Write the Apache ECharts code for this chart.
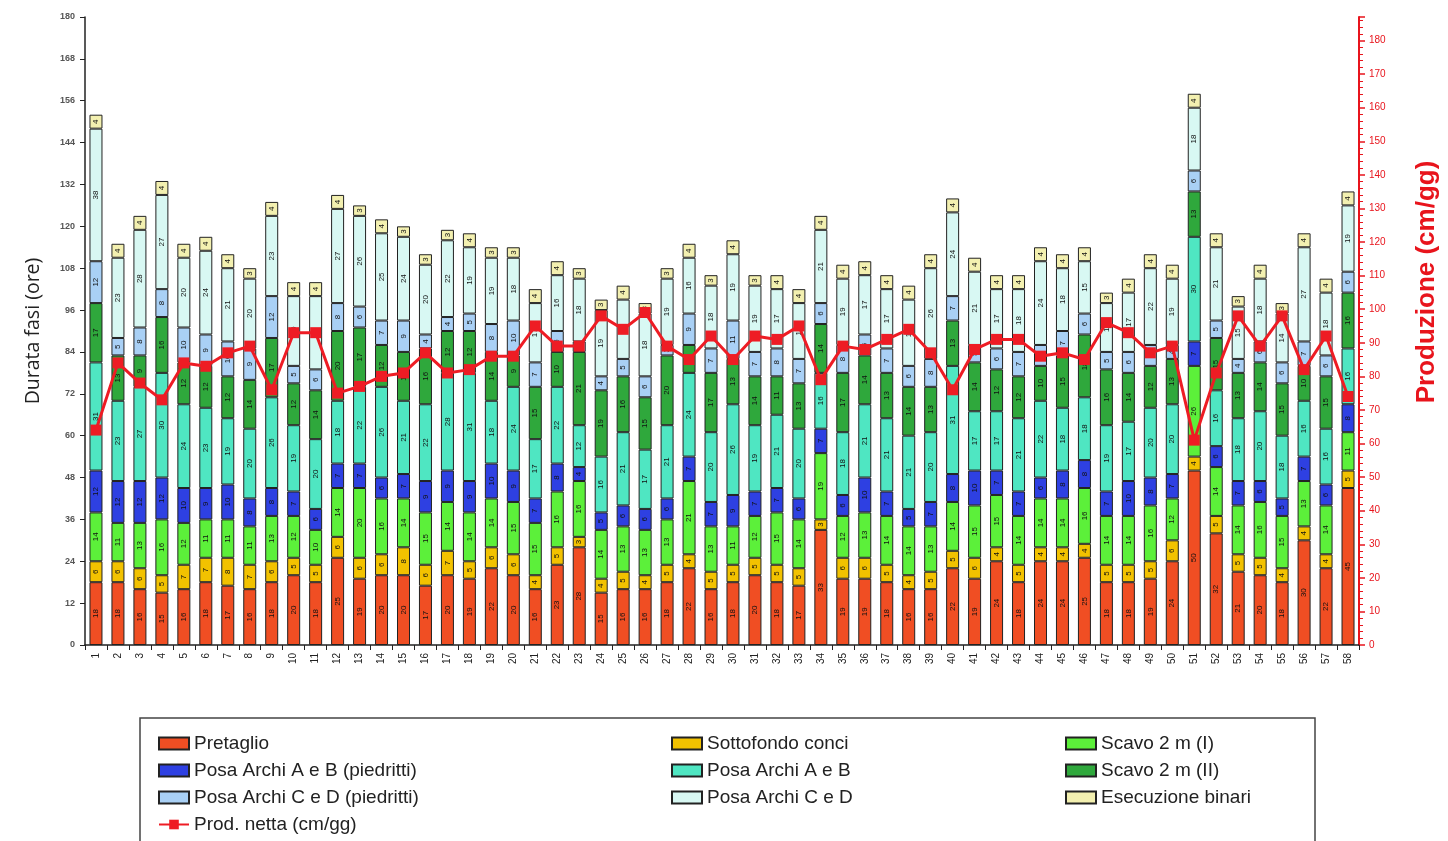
<!DOCTYPE html>
<html>
<head>
<meta charset="utf-8">
<script src="https://cdn.jsdelivr.net/npm/echarts@6/dist/echarts.min.js"></script>
<style>
html,body{margin:0;padding:0;background:#fff;}
#chart{width:1448px;height:841px;}
</style>
</head>
<body>
<div id="chart"></div>
<script>
const categories = Array.from({length: 58}, (_, i) => String(i + 1));

const pretaglio     = [18,18,16,15,16,18,17,16,18,20,18,25,19,20,20,17,20,19,22,20,16,23,28,15,16,16,18,22,16,18,20,18,17,33,19,19,18,16,16,22,19,24,18,24,24,25,18,18,19,24,50,32,21,20,18,30,22,45];
const sottofondo    = [6,6,6,5,7,7,8,7,6,5,5,6,6,6,8,6,7,5,6,6,4,5,3,4,5,4,5,4,5,5,5,5,5,3,6,6,5,4,5,5,6,4,5,4,4,4,5,5,5,6,4,5,5,5,4,4,4,5];
const scavo1        = [14,11,13,16,12,11,11,11,13,12,10,14,20,16,14,15,14,14,14,15,15,16,16,14,13,13,13,21,13,11,12,15,14,19,12,13,14,14,13,14,15,15,14,14,14,16,14,14,16,12,26,14,14,16,15,13,14,11];
const posaABpied    = [12,12,12,12,10,9,10,8,8,7,6,7,7,6,7,9,9,9,10,9,7,8,4,5,6,6,6,7,7,9,7,7,6,7,6,10,7,5,7,8,10,7,7,6,8,8,7,10,8,7,7,6,7,6,5,7,6,8];
const posaAB        = [31,23,27,30,24,23,19,20,26,19,20,18,22,26,21,22,28,31,18,24,17,22,12,16,21,17,21,24,20,26,19,21,20,16,18,21,21,21,20,31,17,17,21,22,18,18,19,17,20,20,30,16,18,20,18,16,16,16];
const scavo2        = [17,13,9,16,12,12,12,14,17,12,14,20,17,12,14,16,12,12,14,9,15,10,21,19,16,15,20,8,17,13,14,11,13,14,17,14,13,14,13,13,14,12,12,10,15,18,16,14,12,13,13,15,13,14,15,10,15,16];
const posaCDpied    = [12,5,8,8,10,9,10,9,12,5,6,8,6,7,9,4,4,5,8,10,7,6,3,4,5,6,3,9,7,11,7,8,7,6,8,6,7,6,8,7,5,6,7,6,7,6,5,6,6,4,6,5,4,6,6,7,6,6];
const posaCD        = [38,23,28,27,20,24,21,20,23,20,21,27,26,25,24,20,22,19,19,18,17,16,18,19,17,18,19,16,18,19,19,17,16,21,19,17,17,19,26,24,21,17,18,24,18,15,14,17,22,19,18,21,15,18,14,27,18,19];
const binari        = [4,4,4,4,4,4,4,3,4,4,4,4,3,4,3,3,3,4,3,3,4,4,3,3,4,3,3,4,3,4,3,4,4,4,4,4,4,4,4,4,4,4,4,4,4,4,3,4,4,4,4,4,3,4,3,4,4,4];
const prodNetta     = [64,84,78,73,84,83,87,89,76,93,93,75,77,80,81,87,81,82,86,86,95,89,89,98,94,99,89,85,92,85,92,91,95,79,89,88,91,94,87,76,88,91,91,86,87,85,96,93,87,89,61,81,98,89,98,82,92,74];

const leftTicks = {min: 0, max: 180, interval: 12};
const rightTicks = {min: 0, max: 187, interval: 10};

const barSeries = [
  ['Pretaglio', pretaglio, '#f04e23'],
  ['Sottofondo conci', sottofondo, '#f2c200'],
  ['Scavo 2 m (I)', scavo1, '#5cf03a'],
  ['Posa Archi A e B (piedritti)', posaABpied, '#2e40e2'],
  ['Posa Archi A e B', posaAB, '#4fe6c2'],
  ['Scavo 2 m (II)', scavo2, '#2fa83c'],
  ['Posa Archi C e D (piedritti)', posaCDpied, '#a9d0f5'],
  ['Posa Archi C e D', posaCD, '#d8f8f3'],
  ['Esecuzione binari', binari, '#f3f0b0']
];

const series = barSeries.map(([name, data, color]) => ({
  name, type: 'bar', stack: 'tot', data, barWidth: 13,
  itemStyle: {color, borderColor: '#222', borderWidth: 1},
  label: {show: true, position: 'inside', rotate: 90, fontSize: 8, color: '#111', fontFamily: 'Liberation Sans'},
  emphasis: {disabled: true}
}));
series.push({
  name: 'Prod. netta (cm/gg)', type: 'line', yAxisIndex: 1, data: prodNetta,
  symbol: 'rect', symbolSize: 11,
  lineStyle: {color: '#ee1c24', width: 3},
  itemStyle: {color: '#ee1c24'},
  z: 5
});

const legendText = {fontSize: 19, color: '#222', fontFamily: 'Liberation Sans'};
const legendBase = {orient: 'vertical', top: 729, height: 200, itemWidth: 30, itemHeight: 12, itemGap: 8, textStyle: legendText};
const rectItem = n => ({name: n, icon: 'rect'});

const chart = echarts.init(document.getElementById('chart'));
chart.setOption({
  animation: false,
  backgroundColor: '#fff',
  grid: {left: 85, right: 83, top: 17, bottom: 196},
  xAxis: {
    type: 'category', data: categories,
    axisLine: {lineStyle: {color: '#222', width: 1.5}},
    axisTick: {show: true, lineStyle: {color: '#222'}, length: 5},
    axisLabel: {rotate: 90, fontSize: 10, color: '#222', fontFamily: 'Liberation Sans', margin: 8}
  },
  yAxis: [
    {
      type: 'value', min: leftTicks.min, max: leftTicks.max, interval: leftTicks.interval,
      name: 'Durata fasi (ore)', nameLocation: 'middle', nameGap: 42, nameRotate: 90,
      nameTextStyle: {fontSize: 19.5, color: '#222', fontFamily: 'Open Sans'},
      axisLine: {show: true, lineStyle: {color: '#222', width: 1.5}},
      axisTick: {show: true, length: 5, lineStyle: {color: '#222'}},
      axisLabel: {fontSize: 9, color: '#555', fontFamily: 'Liberation Sans', fontWeight: 'bold', margin: 10},
      splitLine: {show: false}
    },
    {
      type: 'value', min: rightTicks.min, max: rightTicks.max, interval: rightTicks.interval, position: 'right',
      name: 'Produzione (cm/gg)', nameLocation: 'middle', nameGap: 55, nameRotate: 90,
      nameTextStyle: {fontSize: 26, color: '#e8141c', fontWeight: 'bold', fontFamily: 'Liberation Sans', padding: [0, 0, 0, 98]},
      axisLine: {show: true, lineStyle: {color: '#e8141c', width: 2}},
      axisTick: {show: true, length: 6, lineStyle: {color: '#e8141c', width: 1.5}},
      minorTick: {show: true, splitNumber: 5, length: 4, lineStyle: {color: '#e8141c'}},
      axisLabel: {fontSize: 10, color: '#e8141c', fontFamily: 'Liberation Sans', showMaxLabel: false, margin: 10},
      splitLine: {show: false}
    }
  ],
  legend: [
    Object.assign({}, legendBase, {left: 153, data: [rectItem('Pretaglio'), rectItem('Posa Archi A e B (piedritti)'), rectItem('Posa Archi C e D (piedritti)'), 'Prod. netta (cm/gg)']}),
    Object.assign({}, legendBase, {left: 666, data: [rectItem('Sottofondo conci'), rectItem('Posa Archi A e B'), rectItem('Posa Archi C e D')]}),
    Object.assign({}, legendBase, {left: 1060, data: [rectItem('Scavo 2 m (I)'), rectItem('Scavo 2 m (II)'), rectItem('Esecuzione binari')]})
  ],
  graphic: [{
    type: 'rect', shape: {x: 140, y: 718, width: 1175, height: 140},
    style: {fill: 'none', stroke: '#444', lineWidth: 1.5}, silent: true
  }],
  series
});
</script>
</body>
</html>
